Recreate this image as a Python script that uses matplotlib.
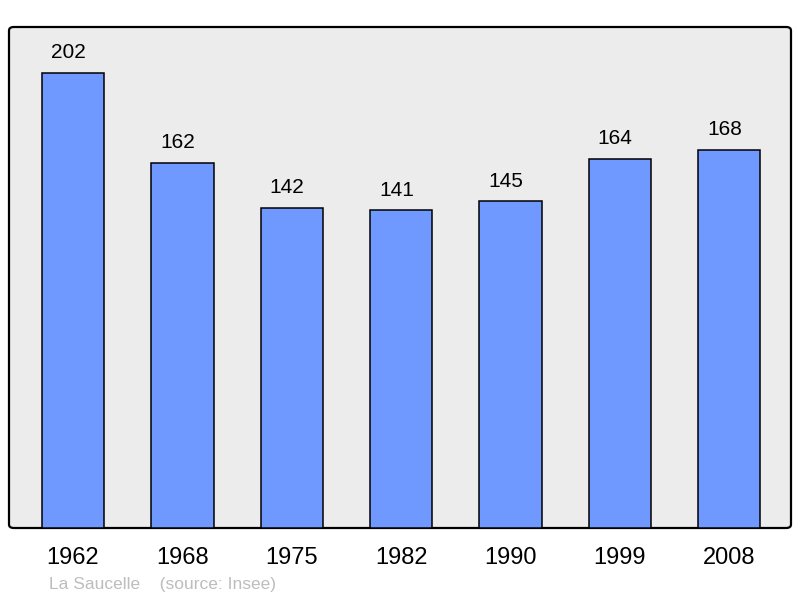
import matplotlib
matplotlib.use("Agg")
import matplotlib.pyplot as plt
from matplotlib.patches import FancyBboxPatch

years = ["1962", "1968", "1975", "1982", "1990", "1999", "2008"]
population = [202, 162, 142, 141, 145, 164, 168]
footer = "La Saucelle    (source: Insee)"

plt.rcParams['font.family'] = ['Liberation Sans', 'DejaVu Sans']

W, H = 800, 598
fig = plt.figure(figsize=(W / 100, H / 100), dpi=100)
fig.patch.set_facecolor('white')

left, right, top, bottom = 9, 791, 27, 528

# background frame with rounded corners
frame = FancyBboxPatch((left / W, 1 - bottom / H), (right - left) / W, (bottom - top) / H,
                       boxstyle="round,pad=0,rounding_size=0.006",
                       transform=fig.transFigure, facecolor='#ececec',
                       edgecolor='black', linewidth=1.6, zorder=-5)
fig.patches.append(frame)

ax = fig.add_axes([left / W, 1 - bottom / H, (right - left) / W, (bottom - top) / H])
ax.set_zorder(1)
ax.set_facecolor('none')
for s in ax.spines.values():
    s.set_visible(False)

x = list(range(len(years)))
ax.bar(x, population, width=0.57, color='#7099ff', edgecolor='black', linewidth=1.1, zorder=2)
ax.set_xlim(-0.585, 6.565)
ax.set_ylim(0, 222.4)

for xi, v in zip(x, population):
    ax.annotate(str(v), (xi, v), xytext=(-3.3, 14.5), textcoords='offset points',
                ha='center', va='center', fontsize=15, color='black')

ax.set_xticks(x)
ax.set_xticklabels(years, fontsize=17)
ax.tick_params(axis='x', length=0, pad=14)
ax.set_yticks([])

fig.text(49 / W, 1 - 584.5 / H, footer, fontsize=12.5, color='#bdbdbd', ha='left', va='center')

fig.savefig('out.png', dpi=100)
